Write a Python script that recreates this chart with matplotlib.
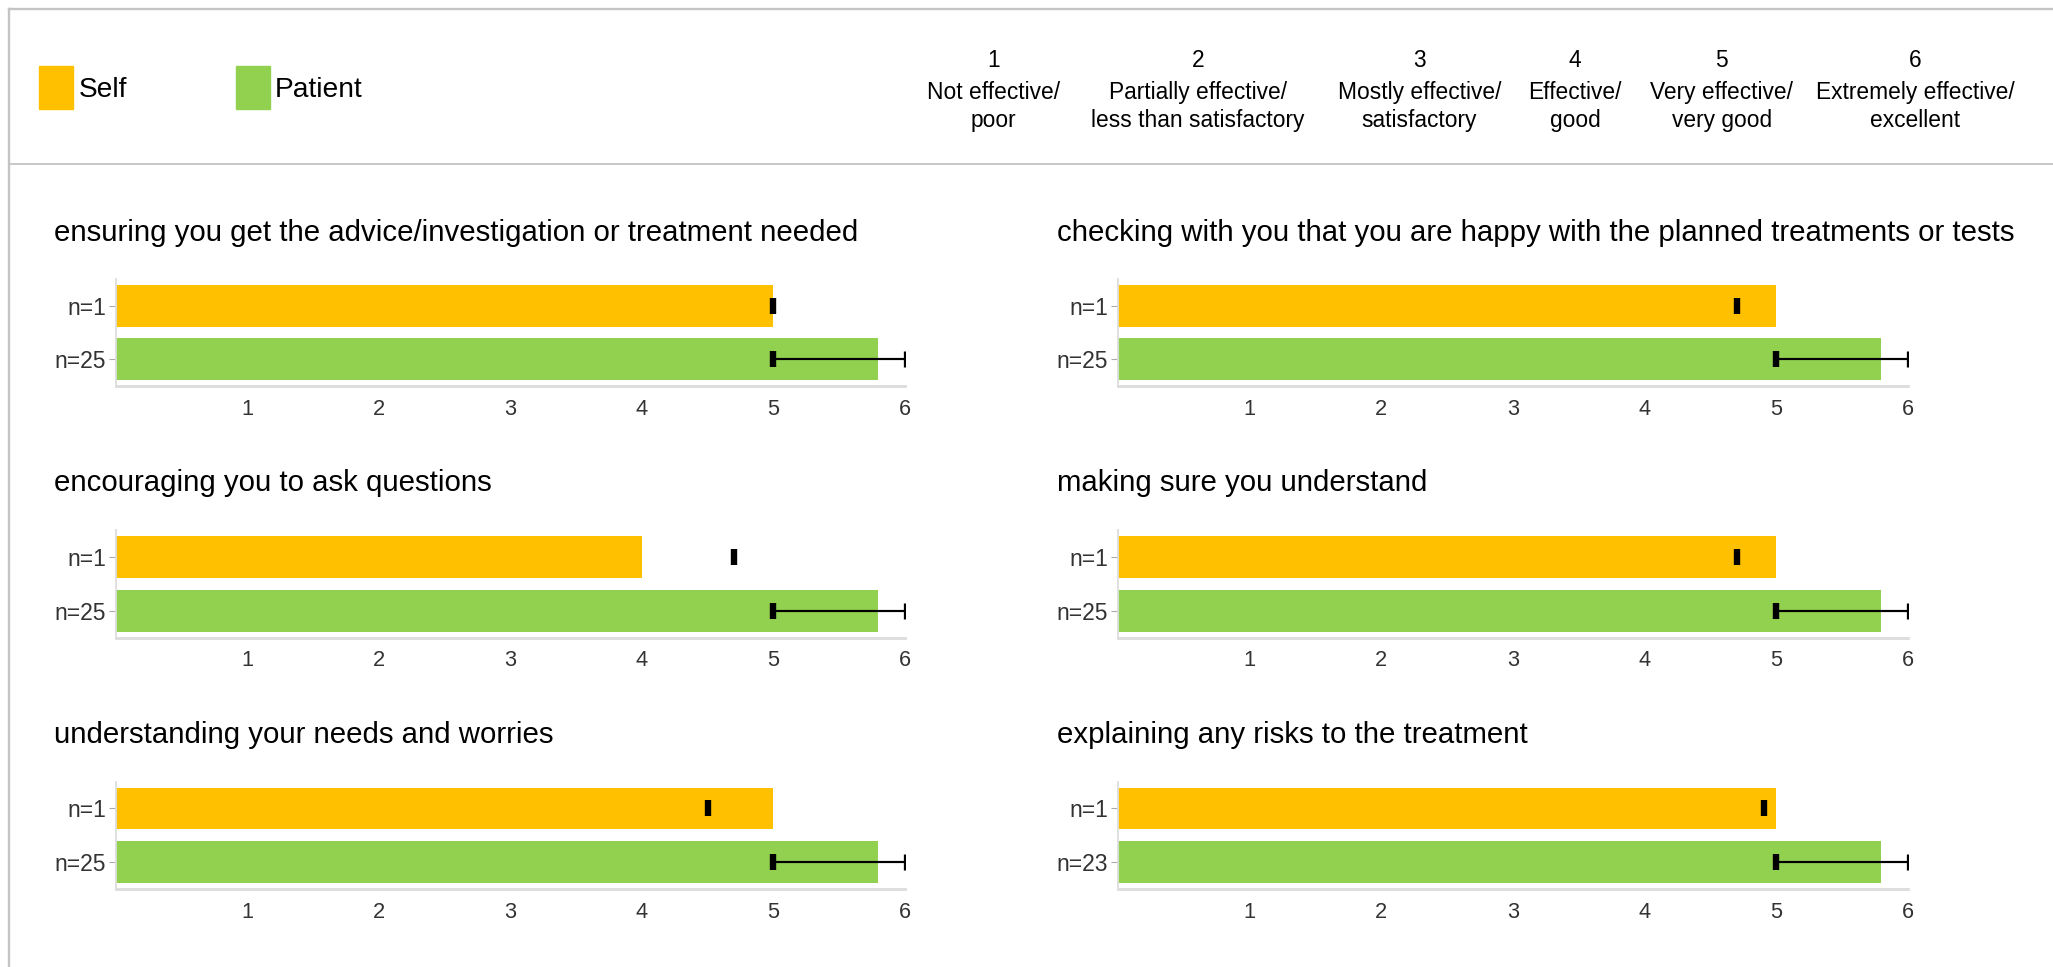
import matplotlib
matplotlib.use("Agg")
import matplotlib.pyplot as plt
from matplotlib.lines import Line2D
from matplotlib.patches import Rectangle

plt.rcParams['font.family'] = ['Liberation Sans', 'DejaVu Sans']

# ---------------- data ----------------
titles = [
    "ensuring you get the advice/investigation or treatment needed",
    "checking with you that you are happy with the planned treatments or tests",
    "encouraging you to ask questions",
    "making sure you understand",
    "understanding your needs and worries",
    "explaining any risks to the treatment",
]
self_vals = [5, 5, 4, 5, 5, 5]
self_marks = [5.0, 4.7, 4.7, 4.7, 4.5, 4.91]
patient_vals = [5.8, 5.8, 5.8, 5.8, 5.8, 5.8]
patient_lo = [5, 5, 5, 5, 5, 5]
patient_hi = [6, 6, 6, 6, 6, 6]
n_self = [1, 1, 1, 1, 1, 1]
n_patient = [25, 25, 25, 25, 25, 23]
xticks = [1, 2, 3, 4, 5, 6]

legend_names = ["Self", "Patient"]
scale_nums = ["1", "2", "3", "4", "5", "6"]
scale_labels = ["Not effective/\npoor",
                "Partially effective/\nless than satisfactory",
                "Mostly effective/\nsatisfactory",
                "Effective/\ngood",
                "Very effective/\nvery good",
                "Extremely effective/\nexcellent"]

SELF_C = "#FFC000"
PAT_C = "#92D050"

W, H = 2053, 967
S = W / 1568.0  # layout below measured on a 1568-wide grid
fig = plt.figure(figsize=(W / 100, H / 100), dpi=100)


def fx(x):
    return x * S / W


def fy(y):
    return 1 - y * S / H


def fs(v):
    return v * S


# frame lines
border = "#c4c4c4"
fig.add_artist(Line2D([fx(7), 1], [fy(7), fy(7)], color=border, lw=fs(1.3)))
fig.add_artist(Line2D([fx(7), fx(7)], [fy(7), 0], color=border, lw=fs(1.3)))
fig.add_artist(Line2D([fx(7), 1], [fy(125), fy(125)], color=border, lw=fs(1.0)))

# legend
for name, col, x0 in zip(legend_names, [SELF_C, PAT_C], [30, 180]):
    fig.add_artist(Rectangle((fx(x0), fy(83.5)), fx(26), 33 * S / H, color=col,
                             transform=fig.transFigure))
    fig.text(fx(x0 + 30), fy(68.5), name, fontsize=fs(15.5), va='center', ha='left')

# scale header
scale_x = [759, 915, 1084, 1203, 1315, 1463]
for xc, num, lab in zip(scale_x, scale_nums, scale_labels):
    fig.text(fx(xc), fy(46.5), num, fontsize=fs(12.5), ha='center', va='center')
    fig.text(fx(xc), fy(81.5), lab, fontsize=fs(12.5), ha='center', va='center',
             linespacing=1.27)

# panels
col_x = [(88.5, 691), (854, 1457)]
title_x = [41, 807]
row_top = [213, 405, 597]
row_h = 82
title_y = [178, 369, 561]

for i in range(6):
    r, c = divmod(i, 2)
    x0, x1 = col_x[c]
    top = row_top[r]
    ax = fig.add_axes([fx(x0), fy(top + row_h), (x1 - x0) * S / W, row_h * S / H])
    ax.barh([0], [self_vals[i]], height=0.78, color=SELF_C, zorder=2)
    ax.barh([1], [patient_vals[i]], height=0.78, color=PAT_C, zorder=2)
    # self marker
    ax.plot([self_marks[i]], [0], marker='|', ms=fs(9), mew=fs(3.5), color='black', zorder=4)
    # patient range
    ax.hlines(1, patient_lo[i], patient_hi[i], color='black', lw=fs(1.2), zorder=3)
    ax.plot([patient_lo[i]], [1], marker='|', ms=fs(9), mew=fs(3.5), color='black', zorder=4)
    ax.plot([patient_hi[i]], [1], marker='|', ms=fs(9), mew=fs(1.8), color='black', zorder=4)

    ax.set_xlim(0, 6)
    ax.set_ylim(1.5, -0.5)
    ax.set_xticks(xticks)
    ax.set_xticklabels([str(t) for t in xticks], fontsize=fs(12), color='#333333')
    ax.set_yticks([0, 1])
    ax.set_yticklabels([f"n={n_self[i]}", f"n={n_patient[i]}"], fontsize=fs(12.6),
                       color='#333333')
    ax.tick_params(axis='x', length=0, pad=fs(7))
    ax.tick_params(axis='y', length=fs(4), color='#aaaaaa', width=0.8, pad=fs(1.5))
    for s in ['top', 'right']:
        ax.spines[s].set_visible(False)
    ax.spines['left'].set_color('#dddddd')
    ax.spines['bottom'].set_color('#dddddd')
    ax.spines['left'].set_linewidth(fs(1.0))
    ax.spines['bottom'].set_linewidth(fs(1.6))
    ax.set_facecolor('none')

    fig.text(fx(title_x[c]), fy(title_y[r]), titles[i], fontsize=fs(16.15),
             ha='left', va='center')

fig.savefig("out.png", dpi=100, facecolor='white')
